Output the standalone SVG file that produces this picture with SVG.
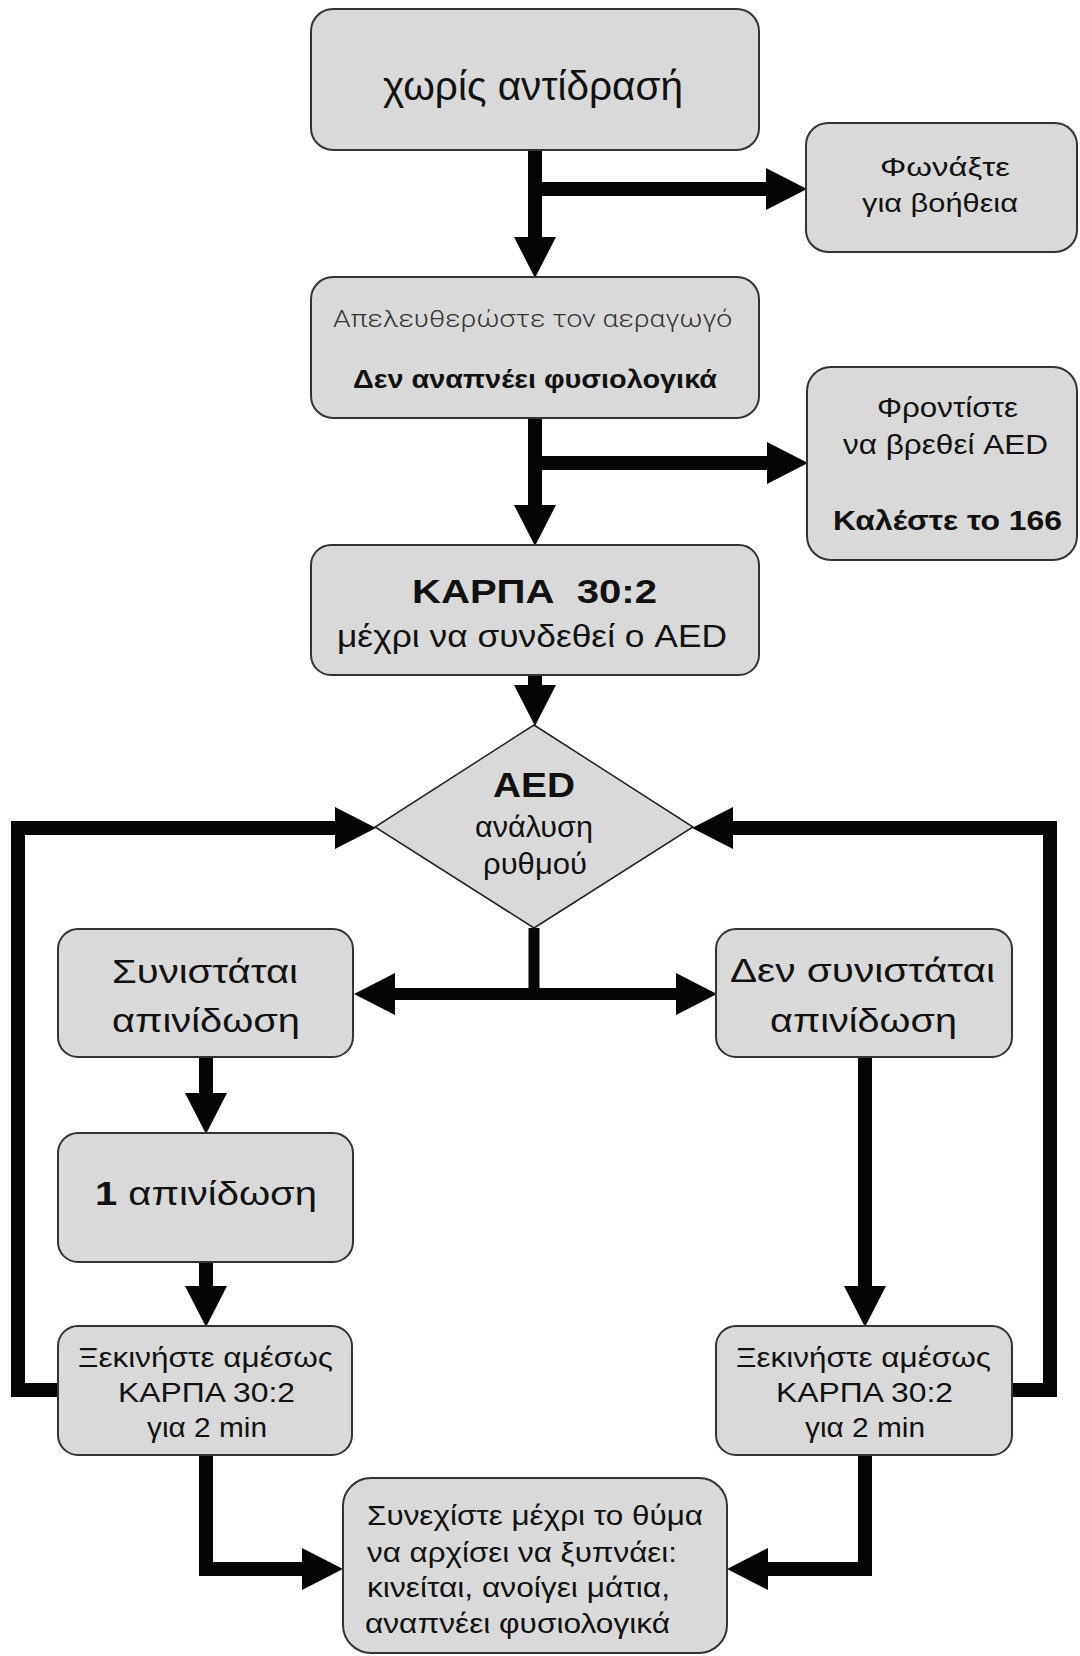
<svg xmlns="http://www.w3.org/2000/svg" width="1080" height="1656" viewBox="0 0 1080 1656">
<defs>
<marker id="ah" markerUnits="userSpaceOnUse" markerWidth="42" markerHeight="42" refX="0" refY="20.5" orient="auto" viewBox="0 0 40 41" overflow="visible"><path d="M0,0 L40,20.5 L0,41 z" fill="#050505"/></marker>
<style>
.box{fill:#d9d9d9;stroke:#333;stroke-width:2}
.dia{fill:#d9d9d9;stroke:#222;stroke-width:1.5}
.t{font-family:"Liberation Sans",Arial,sans-serif;fill:#111}
.b{font-weight:bold}
.lt{font-family:Roboto,"Open Sans","DejaVu Sans",sans-serif;font-weight:300;fill:#333}
.c{fill:none;stroke:#050505;stroke-width:14;stroke-linejoin:miter;marker-end:url(#ah)}
.cn{fill:none;stroke:#050505;stroke-width:11}
</style>
</defs>
<rect width="1080" height="1656" fill="#fff"/>
<g id="connectors">
<path class="c" d="M535,150 V237"/>
<path class="c" d="M528,189 H766"/>
<path class="c" d="M535,418 V505"/>
<path class="c" d="M528,463 H767"/>
<path class="c" d="M535,675 V685"/>
<path class="c" d="M58,1390 H18 V828 H335"/>
<path class="c" d="M1012,1390 H1050 V828 H733"/>
<path class="cn" d="M534,928 V994"/>
<path class="c" style="stroke-width:12" d="M540,994 H395"/>
<path class="c" style="stroke-width:12" d="M528,994 H676"/>
<path class="c" d="M206,1057 V1093"/>
<path class="c" d="M206,1262 V1286"/>
<path class="c" d="M865,1057 V1286"/>
<path class="c" d="M206,1455 V1569 H302"/>
<path class="c" d="M865,1455 V1569 H768"/>
</g>
<g id="n1">
<rect class="box" x="311" y="9" width="448" height="141" rx="22"/>
<text class="t" x="383" y="100" font-size="41" textLength="300" lengthAdjust="spacingAndGlyphs">χωρίς αντίδρασή</text>
</g>
<g id="n2">
<rect class="box" x="806" y="123" width="271" height="129" rx="22"/>
<text class="t" x="880" y="176" font-size="26" textLength="130" lengthAdjust="spacingAndGlyphs">Φωνάξτε</text>
<text class="t" x="862" y="212" font-size="26" textLength="156" lengthAdjust="spacingAndGlyphs">για βοήθεια</text>
</g>
<g id="n3">
<rect class="box" x="311" y="277" width="448" height="141" rx="22"/>
<text class="lt" x="333" y="327" font-size="23" textLength="399" lengthAdjust="spacingAndGlyphs">Απελευθερώστε τον αεραγωγό</text>
<text class="t b" x="353" y="388" font-size="25" textLength="364" lengthAdjust="spacingAndGlyphs">Δεν αναπνέει φυσιολογικά</text>
</g>
<g id="n4">
<rect class="box" x="807" y="367" width="270" height="193" rx="24"/>
<text class="t" x="877" y="417" font-size="27" textLength="141" lengthAdjust="spacingAndGlyphs">Φροντίστε</text>
<text class="t" x="843" y="454" font-size="27" textLength="205" lengthAdjust="spacingAndGlyphs">να βρεθεί AED</text>
<text class="t b" x="833" y="530" font-size="28" textLength="229" lengthAdjust="spacingAndGlyphs">Καλέστε το 166</text>
</g>
<g id="n5">
<rect class="box" x="311" y="545" width="448" height="130" rx="20"/>
<text class="t b" x="412" y="603" font-size="33" textLength="245" lengthAdjust="spacingAndGlyphs" xml:space="preserve">ΚΑΡΠΑ  30:2</text>
<text class="t" x="337" y="647" font-size="32" textLength="390" lengthAdjust="spacingAndGlyphs">μέχρι να συνδεθεί ο AED</text>
</g>
<g id="n6">
<polygon class="dia" points="534,725 693,827 534,928 375,827"/>
<text class="t b" x="493" y="797" font-size="35" textLength="82" lengthAdjust="spacingAndGlyphs">AED</text>
<text class="t" x="475" y="837" font-size="30" textLength="118" lengthAdjust="spacingAndGlyphs">ανάλυση</text>
<text class="t" x="483" y="874" font-size="30" textLength="104" lengthAdjust="spacingAndGlyphs">ρυθμού</text>
</g>
<g id="n7">
<rect class="box" x="58" y="929" width="295" height="128" rx="20"/>
<text class="t" x="112" y="983" font-size="33" textLength="186" lengthAdjust="spacingAndGlyphs">Συνιστάται</text>
<text class="t" x="112" y="1032" font-size="33" textLength="188" lengthAdjust="spacingAndGlyphs">απινίδωση</text>
</g>
<g id="n8">
<rect class="box" x="716" y="929" width="296" height="128" rx="20"/>
<text class="t" x="730" y="982" font-size="33" textLength="265" lengthAdjust="spacingAndGlyphs">Δεν συνιστάται</text>
<text class="t" x="770" y="1032" font-size="33" textLength="187" lengthAdjust="spacingAndGlyphs">απινίδωση</text>
</g>
<g id="n9">
<rect class="box" x="58" y="1133" width="295" height="129" rx="20"/>
<text class="t" x="95" y="1205" font-size="34" textLength="222" lengthAdjust="spacingAndGlyphs"><tspan class="b">1</tspan> απινίδωση</text>
</g>
<g id="n10">
<rect class="box" x="58" y="1326" width="294" height="129" rx="20"/>
<text class="t" x="78" y="1367" font-size="27" textLength="255" lengthAdjust="spacingAndGlyphs">Ξεκινήστε αμέσως</text>
<text class="t" x="118" y="1402" font-size="27" textLength="177" lengthAdjust="spacingAndGlyphs">ΚΑΡΠΑ 30:2</text>
<text class="t" x="147" y="1437" font-size="27" textLength="120" lengthAdjust="spacingAndGlyphs">για 2 min</text>
</g>
<g id="n11">
<rect class="box" x="716" y="1326" width="296" height="129" rx="20"/>
<text class="t" x="736" y="1367" font-size="27" textLength="255" lengthAdjust="spacingAndGlyphs">Ξεκινήστε αμέσως</text>
<text class="t" x="776" y="1402" font-size="27" textLength="177" lengthAdjust="spacingAndGlyphs">ΚΑΡΠΑ 30:2</text>
<text class="t" x="805" y="1437" font-size="27" textLength="120" lengthAdjust="spacingAndGlyphs">για 2 min</text>
</g>
<g id="n12">
<rect class="box" x="343" y="1478" width="384" height="175" rx="28"/>
<text class="t" x="367" y="1525" font-size="28" textLength="336" lengthAdjust="spacingAndGlyphs">Συνεχίστε μέχρι το θύμα</text>
<text class="t" x="367" y="1562" font-size="28" textLength="310" lengthAdjust="spacingAndGlyphs">να αρχίσει να ξυπνάει:</text>
<text class="t" x="367" y="1597" font-size="28" textLength="303" lengthAdjust="spacingAndGlyphs">κινείται, ανοίγει μάτια,</text>
<text class="t" x="365" y="1633" font-size="28" textLength="305" lengthAdjust="spacingAndGlyphs">αναπνέει φυσιολογικά</text>
</g>
</svg>
